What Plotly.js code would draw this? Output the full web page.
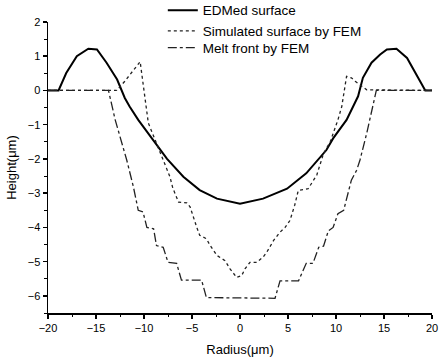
<!DOCTYPE html>
<html>
<head>
<meta charset="utf-8">
<script src="https://cdn.plot.ly/plotly-3.0.1.min.js"></script>
<style>html,body{margin:0;padding:0;background:#fff;}#chart{width:440px;height:360px;}</style>
</head>
<body>
<div id="chart"></div>
<script>
const edmX = [-20,-18.9,-18.1,-17.0,-15.8,-14.9,-13.9,-12.8,-12.0,-11.5,-10.6,-9.0,-7.6,-5.9,-4.2,-2.4,0,2.4,4.9,6.9,8.2,9.0,9.7,11.1,12.3,12.8,13.7,14.6,15.3,16.3,17.4,18.4,19.3,20];
const edmY = [0,0,0.51,1.0,1.22,1.2,0.81,0.32,-0.22,-0.47,-0.86,-1.45,-2.0,-2.52,-2.91,-3.16,-3.31,-3.16,-2.87,-2.42,-1.98,-1.74,-1.4,-0.86,-0.17,0.37,0.81,1.05,1.2,1.22,0.95,0.46,0,0];

const simX = [-20,-12.85,-12.0,-11.1,-10.4,-9.55,-8.0,-7.3,-7.0,-6.4,-5.55,-5.2,-4.5,-4.2,-3.5,-3.1,-2.4,-1.56,-1.04,-0.35,0.17,0.52,1.04,1.74,2.4,2.8,3.5,4.17,4.7,5.2,5.7,6.07,7.1,8.0,8.7,9.4,10.2,10.6,11.1,11.6,12.0,13.2,20];
const simY = [0,0,0.27,0.61,0.84,-0.95,-2.03,-2.52,-2.85,-3.26,-3.28,-3.4,-4.0,-4.23,-4.33,-4.53,-4.82,-4.97,-5.21,-5.46,-5.41,-5.21,-5.02,-5.02,-4.87,-4.72,-4.38,-4.14,-4.0,-3.8,-3.35,-2.92,-2.87,-2.47,-1.84,-1.5,-0.86,-0.47,0.41,0.37,0.27,0.02,0];

const meltX = [-20,-13.7,-13.0,-11.8,-11.1,-10.6,-10.1,-9.7,-9.0,-8.7,-8.0,-7.5,-6.6,-6.1,-4.0,-3.5,3.65,4.17,6.1,6.9,7.6,8.2,8.7,9.2,9.7,10.2,10.8,11.6,12.15,12.5,13.2,13.7,14.2,20];
const meltY = [0,0,-0.86,-2.03,-2.82,-3.5,-3.55,-4.0,-4.04,-4.53,-4.58,-5.02,-5.05,-5.54,-5.54,-6.05,-6.07,-5.56,-5.56,-5.05,-5.05,-4.58,-4.55,-4.1,-4.0,-3.6,-3.5,-2.62,-2.33,-2.03,-1.25,-0.61,0,0];

const names = ['EDMed surface','Simulated surface by FEM','Melt front by FEM'];
const xTicks = [-20,-15,-10,-5,0,5,10,15,20];
const yTicks = [-6,-5,-4,-3,-2,-1,0,1,2];

const FONT = 'Liberation Sans, Arial, sans-serif';

const traces = [
  {x: edmX, y: edmY, name: names[0], mode: 'lines', legend: 'legend', line: {color: '#000', width: 2}},
  {x: simX, y: simY, name: names[1], mode: 'lines', legend: 'legend2', line: {color: '#222', width: 1.3, dash: 'dot'}},
  {x: meltX, y: meltY, name: names[2], mode: 'lines', legend: 'legend3', line: {color: '#222', width: 1.3, dash: 'dashdot'}}
];

const axisCommon = {
  showgrid: false, zeroline: false, showline: true, linecolor: '#000', linewidth: 1.5,
  tickmode: 'linear', ticks: 'outside', ticklen: 4, tickwidth: 1.5, tickcolor: '#000',
  tickfont: {family: FONT, size: 11, color: '#000'}
};

function leg(yp) {
  return {x: 0.299, y: yp, xanchor: 'left', yanchor: 'middle', bgcolor: 'rgba(0,0,0,0)',
          font: {family: FONT, size: 13.5, color: '#000'}};
}

const layout = {
  width: 440, height: 360,
  margin: {l: 48, r: 8, t: 22, b: 47, autoexpand: false},
  paper_bgcolor: '#fff', plot_bgcolor: '#fff',
  showlegend: true,
  legend: leg(1.04),
  legend2: leg(0.969),
  legend3: leg(0.911),
  xaxis: Object.assign({}, axisCommon, {
    range: [xTicks[0], xTicks[xTicks.length - 1]], tick0: xTicks[0], dtick: xTicks[1] - xTicks[0],
    minor: {dtick: (xTicks[1] - xTicks[0]) / 2, ticks: 'outside', ticklen: 2.5, tickwidth: 1, tickcolor: '#000'},
    title: {text: 'Radius(\u03bcm)', font: {family: FONT, size: 13, color: '#000'}, standoff: 12}
  }),
  yaxis: Object.assign({}, axisCommon, {
    range: [-6.5, yTicks[yTicks.length - 1]], tick0: yTicks[0], dtick: yTicks[1] - yTicks[0],
    minor: {dtick: (yTicks[1] - yTicks[0]) / 2, ticks: 'outside', ticklen: 2.5, tickwidth: 1, tickcolor: '#000'},
    title: {text: 'Height(\u03bcm)', font: {family: FONT, size: 13, color: '#000'}, standoff: 8}
  })
};

Plotly.newPlot('chart', traces, layout, {displayModeBar: false, staticPlot: true});
</script>
</body>
</html>
